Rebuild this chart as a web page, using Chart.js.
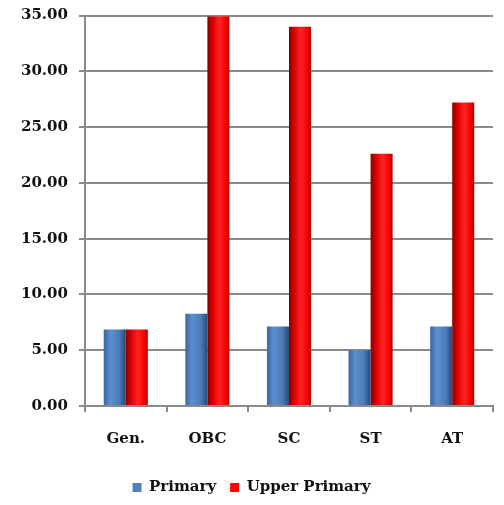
<!DOCTYPE html>
<html>
<head>
<meta charset="utf-8">
<script src="https://cdn.jsdelivr.net/npm/chart.js@4"></script>
<style>
  html, body { margin: 0; padding: 0; background: #ffffff; }
  #wrap { width: 504px; height: 505px; }
</style>
</head>
<body>
<div id="wrap"><canvas id="c" width="504" height="505"></canvas></div>
<script>
// Categories and series
const categories = ['Gen.', 'OBC', 'SC', 'ST', 'AT'];
const primary = [6.85, 8.26, 7.13, 5.0, 7.13];
const upperPrimary = [6.85, 34.9, 34.0, 22.6, 27.2];
const yTicks = { min: 0, max: 35, step: 5 };

const FONT = '"DejaVu Serif", "Liberation Serif", serif';
const GRID = '#8a8a8a';

// Cylinder-like shading for each bar, built from the bar's own geometry
const shades = [
  [[0, '#3b65a0'], [0.3, '#5d8fce'], [0.7, '#4b7bb8'], [1, '#284878']],
  [[0, '#8a0000'], [0.25, '#dd0000'], [0.55, '#ff2222'], [0.85, '#f20000'], [1, '#b00000']]
];
const barShading = {
  id: 'barShading',
  beforeDatasetsDraw(chart) {
    const ctx = chart.ctx;
    chart.data.datasets.forEach((ds, di) => {
      const meta = chart.getDatasetMeta(di);
      meta.data.forEach(bar => {
        const x0 = bar.x - bar.width / 2, x1 = bar.x + bar.width / 2;
        const g = ctx.createLinearGradient(x0, 0, x1, 0);
        shades[di].forEach(([p, c]) => g.addColorStop(p, c));
        bar.options = Object.assign({}, bar.options, { backgroundColor: g });
      });
    });
  }
};

new Chart(document.getElementById('c'), {
  type: 'bar',
  data: {
    labels: categories,
    datasets: [
      { label: 'Primary', data: primary, backgroundColor: '#4f81bd', borderWidth: 0 },
      { label: 'Upper Primary', data: upperPrimary, backgroundColor: '#ff0000', borderWidth: 0 }
    ]
  },
  plugins: [barShading],
  options: {
    responsive: false,
    animation: false,
    devicePixelRatio: 1,
    datasets: { bar: { categoryPercentage: 0.54, barPercentage: 1.0 } },
    layout: { padding: { left: 10, right: 11, top: 1, bottom: 0 } },
    plugins: {
      tooltip: { enabled: false },
      legend: {
        position: 'bottom',
        labels: {
          font: { family: FONT, size: 15, weight: 'bold' },
          color: '#111',
          boxWidth: 9,
          boxHeight: 9,
          padding: 14
        }
      }
    },
    scales: {
      x: {
        grid: { drawOnChartArea: false, drawTicks: true, tickLength: 6, color: GRID, lineWidth: 2, offset: true },
        border: { color: GRID, width: 2 },
        ticks: { font: { family: FONT, size: 15, weight: 'bold' }, color: '#111', padding: 18 }
      },
      y: {
        min: yTicks.min,
        max: yTicks.max,
        grid: { color: GRID, lineWidth: 2, tickLength: 6 },
        border: { color: GRID, width: 2 },
        ticks: {
          stepSize: yTicks.step,
          font: { family: FONT, size: 15, weight: 'bold', lineHeight: 0.6 },
          color: '#111',
          padding: 11,
          callback: v => Number(v).toFixed(2)
        }
      }
    }
  }
});
</script>
</body>
</html>
